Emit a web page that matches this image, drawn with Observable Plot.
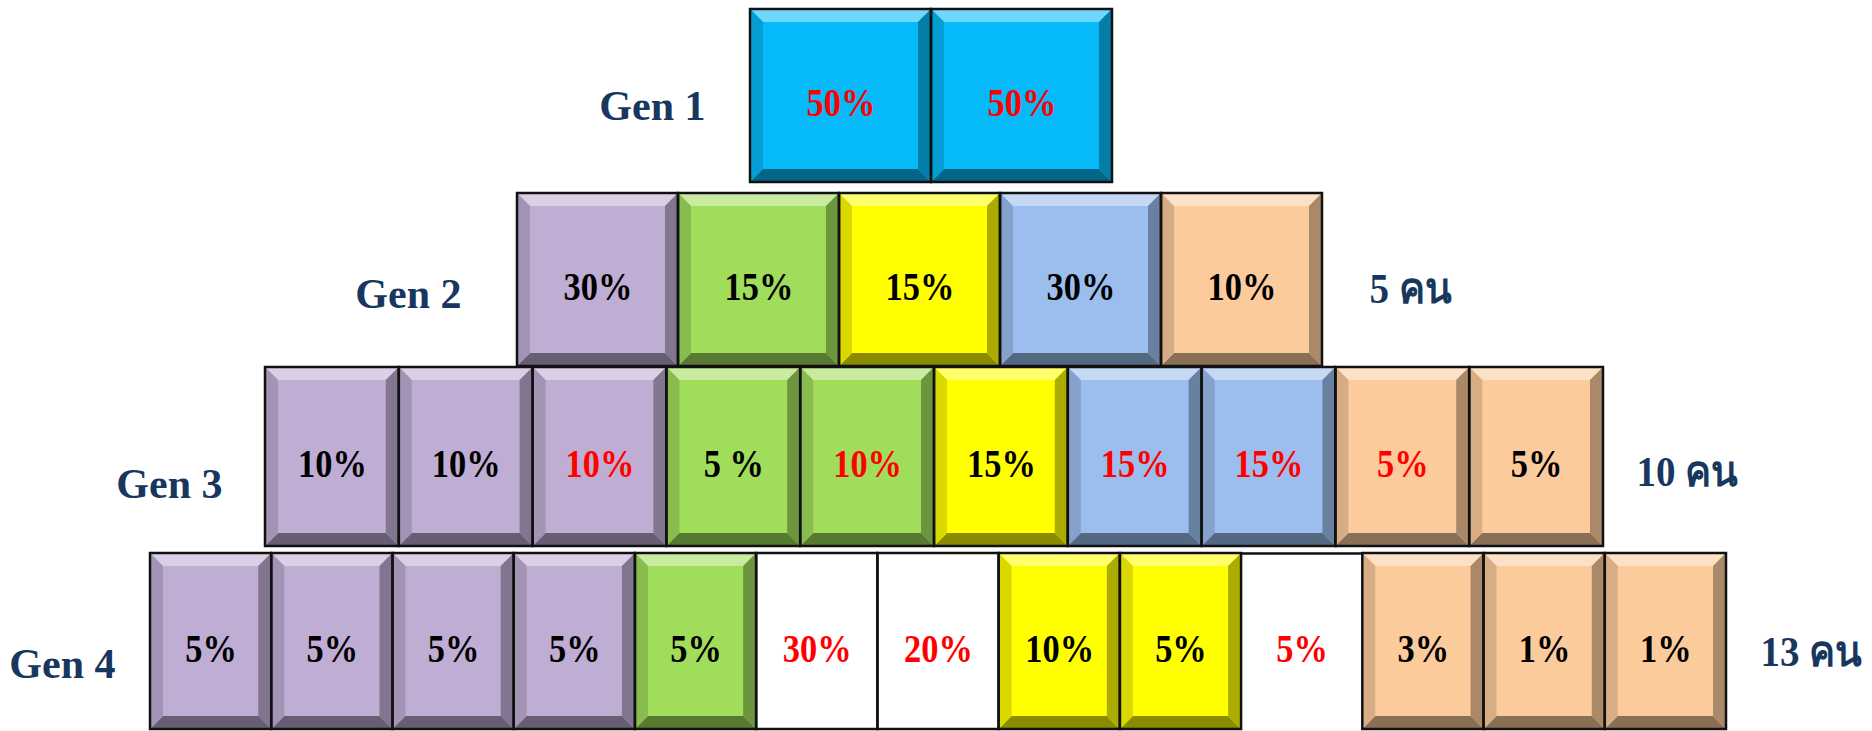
<!DOCTYPE html>
<html>
<head>
<meta charset="utf-8">
<script src="https://cdn.jsdelivr.net/npm/d3@7"></script>
<script src="https://cdn.jsdelivr.net/npm/@observablehq/plot@0.6"></script>
<style>
  html, body { margin: 0; padding: 0; background: #ffffff; }
  #chart { width: 1872px; height: 731px; }
</style>
</head>
<body>
<div id="chart"></div>
<script>
// ---------- DATA ----------
const generations = ["Gen 1", "Gen 2", "Gen 3", "Gen 4"];
const headCounts = ["", "5 คน", "10 คน", "13 คน"];

const gen1Shares = ["50%", "50%"];
const gen1Groups = ["cyan", "cyan"];
const gen1Red    = [true, true];

const gen2Shares = ["30%", "15%", "15%", "30%", "10%"];
const gen2Groups = ["purple", "green", "yellow", "blue", "peach"];
const gen2Red    = [false, false, false, false, false];

const gen3Shares = ["10%", "10%", "10%", "5 %", "10%", "15%", "15%", "15%", "5%", "5%"];
const gen3Groups = ["purple", "purple", "purple", "green", "green", "yellow", "blue", "blue", "peach", "peach"];
const gen3Red    = [false, false, true, false, true, false, true, true, true, false];

const gen4Shares = ["5%", "5%", "5%", "5%", "5%", "30%", "20%", "10%", "5%", "5%", "3%", "1%", "1%"];
const gen4Groups = ["purple", "purple", "purple", "purple", "green", "white", "white", "yellow", "yellow", "open", "peach", "peach", "peach"];
const gen4Red    = [false, false, false, false, false, true, true, false, false, true, false, false, false];

const groupNames  = ["cyan", "purple", "green", "yellow", "blue", "peach", "white", "open"];
const groupColors = ["#06B9F9", "#BFADD3", "#A0DD5B", "#FFFF00", "#9BBEEE", "#FCCB9C", "#FFFFFF", "#FFFFFF"];

// ---------- LAYOUT (pixel frame) ----------
const W = 1872, H = 731;
const layout = {
  top:        [9, 193, 367, 553],
  bottom:     [182, 366, 546, 729],
  left:       [750, 517, 265, 150],
  right:      [1112, 1322, 1603, 1726],
  labelRight: [705, 461, 222, 115],
  labelY:     [106, 294, 484, 664],
  countLeft:  [0, 1369, 1636, 1760],
  countY:     [0, 289, 472, 652],
  bevel: 13
};

const rows = [
  [gen1Shares, gen1Groups, gen1Red],
  [gen2Shares, gen2Groups, gen2Red],
  [gen3Shares, gen3Groups, gen3Red],
  [gen4Shares, gen4Groups, gen4Red]
];

const cells = [];
rows.forEach(([shares, groups, reds], g) => {
  const n = shares.length;
  const w = (layout.right[g] - layout.left[g]) / n;
  shares.forEach((s, i) => {
    cells.push({
      id: `${g}-${i}`,
      gen: generations[g],
      share: s,
      group: groups[i],
      red: reds[i],
      x1: layout.left[g] + i * w,
      x2: layout.left[g] + (i + 1) * w,
      y1: layout.top[g],
      y2: layout.bottom[g]
    });
  });
});

const faceOf = Object.fromEntries(groupNames.map((n, i) => [n, groupColors[i]]));
const beveled = cells.filter(c => c.group !== "white" && c.group !== "open");
const bordered = cells.filter(c => c.group !== "open");
const openCells = cells.filter(c => c.group === "open");

// bevel polygons as areaY vertices
const b = layout.bevel;
const verts = [];
beveled.forEach(c => {
  const face = faceOf[c.group];
  const top = d3.interpolateRgb(face, "#ffffff")(0.42);
  const left = d3.rgb(face).darker(0.45).formatHex();
  const right = d3.rgb(face).darker(1.1).formatHex();
  const bottom = d3.rgb(face).darker(1.7).formatHex();
  const {x1, x2, y1, y2} = c;
  [[x1, y1, y1], [x1 + b, y1, y1 + b], [x2 - b, y1, y1 + b], [x2, y1, y1]]
    .forEach(([x, a, z]) => verts.push({id: c.id + "t", shade: top, x, y1: a, y2: z}));
  [[x1, y2, y2], [x1 + b, y2 - b, y2], [x2 - b, y2 - b, y2], [x2, y2, y2]]
    .forEach(([x, a, z]) => verts.push({id: c.id + "b", shade: bottom, x, y1: a, y2: z}));
  [[x1, y1, y2], [x1 + b, y1 + b, y2 - b]]
    .forEach(([x, a, z]) => verts.push({id: c.id + "l", shade: left, x, y1: a, y2: z}));
  [[x2 - b, y1 + b, y2 - b], [x2, y1, y2]]
    .forEach(([x, a, z]) => verts.push({id: c.id + "r", shade: right, x, y1: a, y2: z}));
});

const genLabels = generations.map((g, i) => ({text: g, x: layout.labelRight[i], y: layout.labelY[i]}));
const countLabels = headCounts.map((t, i) => ({text: t, x: layout.countLeft[i], y: layout.countY[i]})).filter(d => d.text);

const serif = "'Liberation Serif', 'Times New Roman', serif";

const chart = Plot.plot({
  width: W,
  height: H,
  margin: 0,
  x: {type: "linear", domain: [0, W], range: [0, W], axis: null},
  y: {type: "linear", domain: [0, H], range: [0, H], axis: null},
  color: {type: "ordinal", domain: groupNames, range: groupColors},
  style: {background: "#ffffff", overflow: "visible"},
  marks: [
    Plot.rect(cells, {x1: "x1", x2: "x2", y1: "y1", y2: "y2", fill: "group"}),
    Plot.areaY(verts, {x: "x", y1: "y1", y2: "y2", z: "id", fill: "shade", curve: "linear"}),
    Plot.rect(bordered, {x1: "x1", x2: "x2", y1: "y1", y2: "y2", fill: "none", stroke: "#111111", strokeWidth: 2.5}),
    Plot.ruleY(openCells, {x1: "x1", x2: "x2", y: "y1", stroke: "#111111", strokeWidth: 2.5}),
    Plot.text(cells, {
      x: d => (d.x1 + d.x2) / 2,
      y: d => (d.y1 + d.y2) / 2,
      text: "share",
      fill: d => d.red ? "#FF0000" : "#000000",
      fontSize: 41,
      fontWeight: "bold",
      fontFamily: serif,
      dy: 7
    }),
    Plot.text(genLabels, {
      x: "x", y: "y", text: "text", textAnchor: "end",
      fill: "#17375E", fontSize: 42, fontWeight: "bold", fontFamily: serif
    }),
    Plot.text(countLabels, {
      x: "x", y: "y", text: "text", textAnchor: "start",
      fill: "#17375E", fontSize: 42, fontWeight: "bold", fontFamily: serif
    })
  ]
});

// horizontally condense text glyphs (reference typeface is narrower)
function condense(t, s) {
  const tr = t.getAttribute("transform");
  if (tr) {
    t.setAttribute("transform", tr + ` scale(${s},1)`);
  } else {
    const x = parseFloat(t.getAttribute("x")) || 0, y = parseFloat(t.getAttribute("y")) || 0;
    t.setAttribute("transform", `translate(${x},${y}) scale(${s},1) translate(${-x},${-y})`);
  }
}
chart.querySelectorAll("text").forEach(t => {
  const s = t.textContent;
  if (s.includes("%")) condense(t, 0.84);
  else if (s.includes("คน")) condense(t, 0.93);
});

document.getElementById("chart").appendChild(chart);
</script>
</body>
</html>
